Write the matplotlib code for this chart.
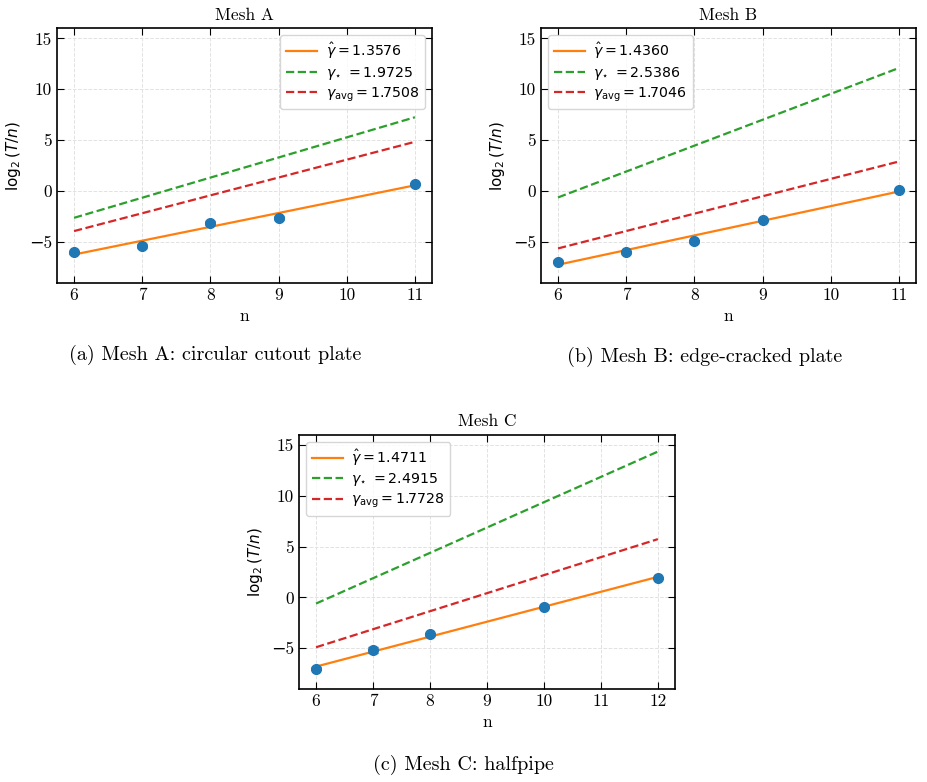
import numpy as np
import matplotlib
matplotlib.use("Agg")
import matplotlib.pyplot as plt

plt.rcParams['font.family'] = ['cmr10', 'DejaVu Serif']
plt.rcParams['mathtext.fontset'] = 'dejavusans'
plt.rcParams['axes.formatter.use_mathtext'] = False

# mesh A
n_a = [6, 7, 8, 9, 11]
y_a = [-6.0, -5.35, -3.1, -2.6, 0.7]
err_a = [0.15, 0.2, 0.2, 0.2, 0.1]
gam_a = [1.3576, 1.9725, 1.7508]
start_a = [-6.2, -2.6, -3.9]  # value of each line at the first n

# mesh B
n_b = [6, 7, 8, 9, 11]
y_b = [-6.9, -6.0, -4.9, -2.8, 0.15]
err_b = [0.15, 0.15, 0.15, 0.1, 0.1]
gam_b = [1.4360, 2.5386, 1.7046]
start_b = [-7.2, -0.6, -5.6]

# mesh C
n_c = [6, 7, 8, 10, 12]
y_c = [-7.0, -5.2, -3.6, -0.9, 1.95]
err_c = [0.15, 0.3, 0.15, 0.1, 0.1]
gam_c = [1.4711, 2.4915, 1.7728]
start_c = [-6.8, -0.6, -4.9]

titles = ["Mesh A", "Mesh B", "Mesh C"]
captions = ["(a) Mesh A: circular cutout plate",
            "(b) Mesh B: edge-cracked plate",
            "(c) Mesh C: halfpipe"]

fig = plt.figure(figsize=(9.27, 7.82), dpi=100)
ax_a = fig.add_axes([0.0615, 0.638, 0.4045, 0.326])
ax_b = fig.add_axes([0.5836, 0.638, 0.4045, 0.326])
ax_c = fig.add_axes([0.3225, 0.119, 0.4056, 0.325])


def draw(ax, n, y, err, gam, start, title, loc):
    n = np.array(n, dtype=float)
    ax.grid(True, ls='--', color='#e2e2e2', lw=0.7)
    ax.set_axisbelow(True)
    labels = [r'$\hat{\gamma} = %.4f$' % gam[0],
              r'$\gamma_{\star}\ = %.4f$' % gam[1],
              r'$\gamma_{\mathrm{avg}} = %.4f$' % gam[2]]
    styles = [('tab:orange', '-'), ('tab:green', '--'), ('tab:red', '--')]
    ends = [n[0], n[-1]]
    for g, s0, lab, (c, ls) in zip(gam, start, labels, styles):
        ax.plot(ends, [s0, s0 + g * (n[-1] - n[0])], color=c, ls=ls, lw=1.6, label=lab)
    ax.errorbar(n, y, yerr=err, fmt='o', color='tab:blue', ms=7, capsize=3.5, zorder=3)
    ax.set_ylim(-9, 16)
    ax.set_yticks([-5, 0, 5, 10, 15])
    ax.set_title(title, fontsize=12.5)
    ax.set_xlabel('n', fontsize=12.5)
    ax.set_ylabel(r'$\log_2(T/n)$', fontsize=11)
    ax.tick_params(direction='in', top=True, right=True, length=5, labelsize=12.5)
    for sp in ax.spines.values():
        sp.set_linewidth(1.2)
    ax.legend(loc=loc, prop={'family': 'DejaVu Sans', 'size': 10.2},
              handlelength=2.2, handletextpad=0.6, labelspacing=0.25,
              borderpad=0.4, fancybox=True)


draw(ax_a, n_a, y_a, err_a, gam_a, start_a, titles[0], 'upper right')
draw(ax_b, n_b, y_b, err_b, gam_b, start_b, titles[1], 'upper left')
draw(ax_c, n_c, y_c, err_c, gam_c, start_c, titles[2], 'upper left')

fig.text(215 / 927, 1 - 355 / 782, captions[0], ha='center', va='center', fontsize=14.5)
fig.text(705 / 927, 1 - 357 / 782, captions[1], ha='center', va='center', fontsize=14.5)
fig.text(463 / 927, 1 - 765 / 782, captions[2], ha='center', va='center', fontsize=14.5)

fig.savefig('out.png', dpi=100)
